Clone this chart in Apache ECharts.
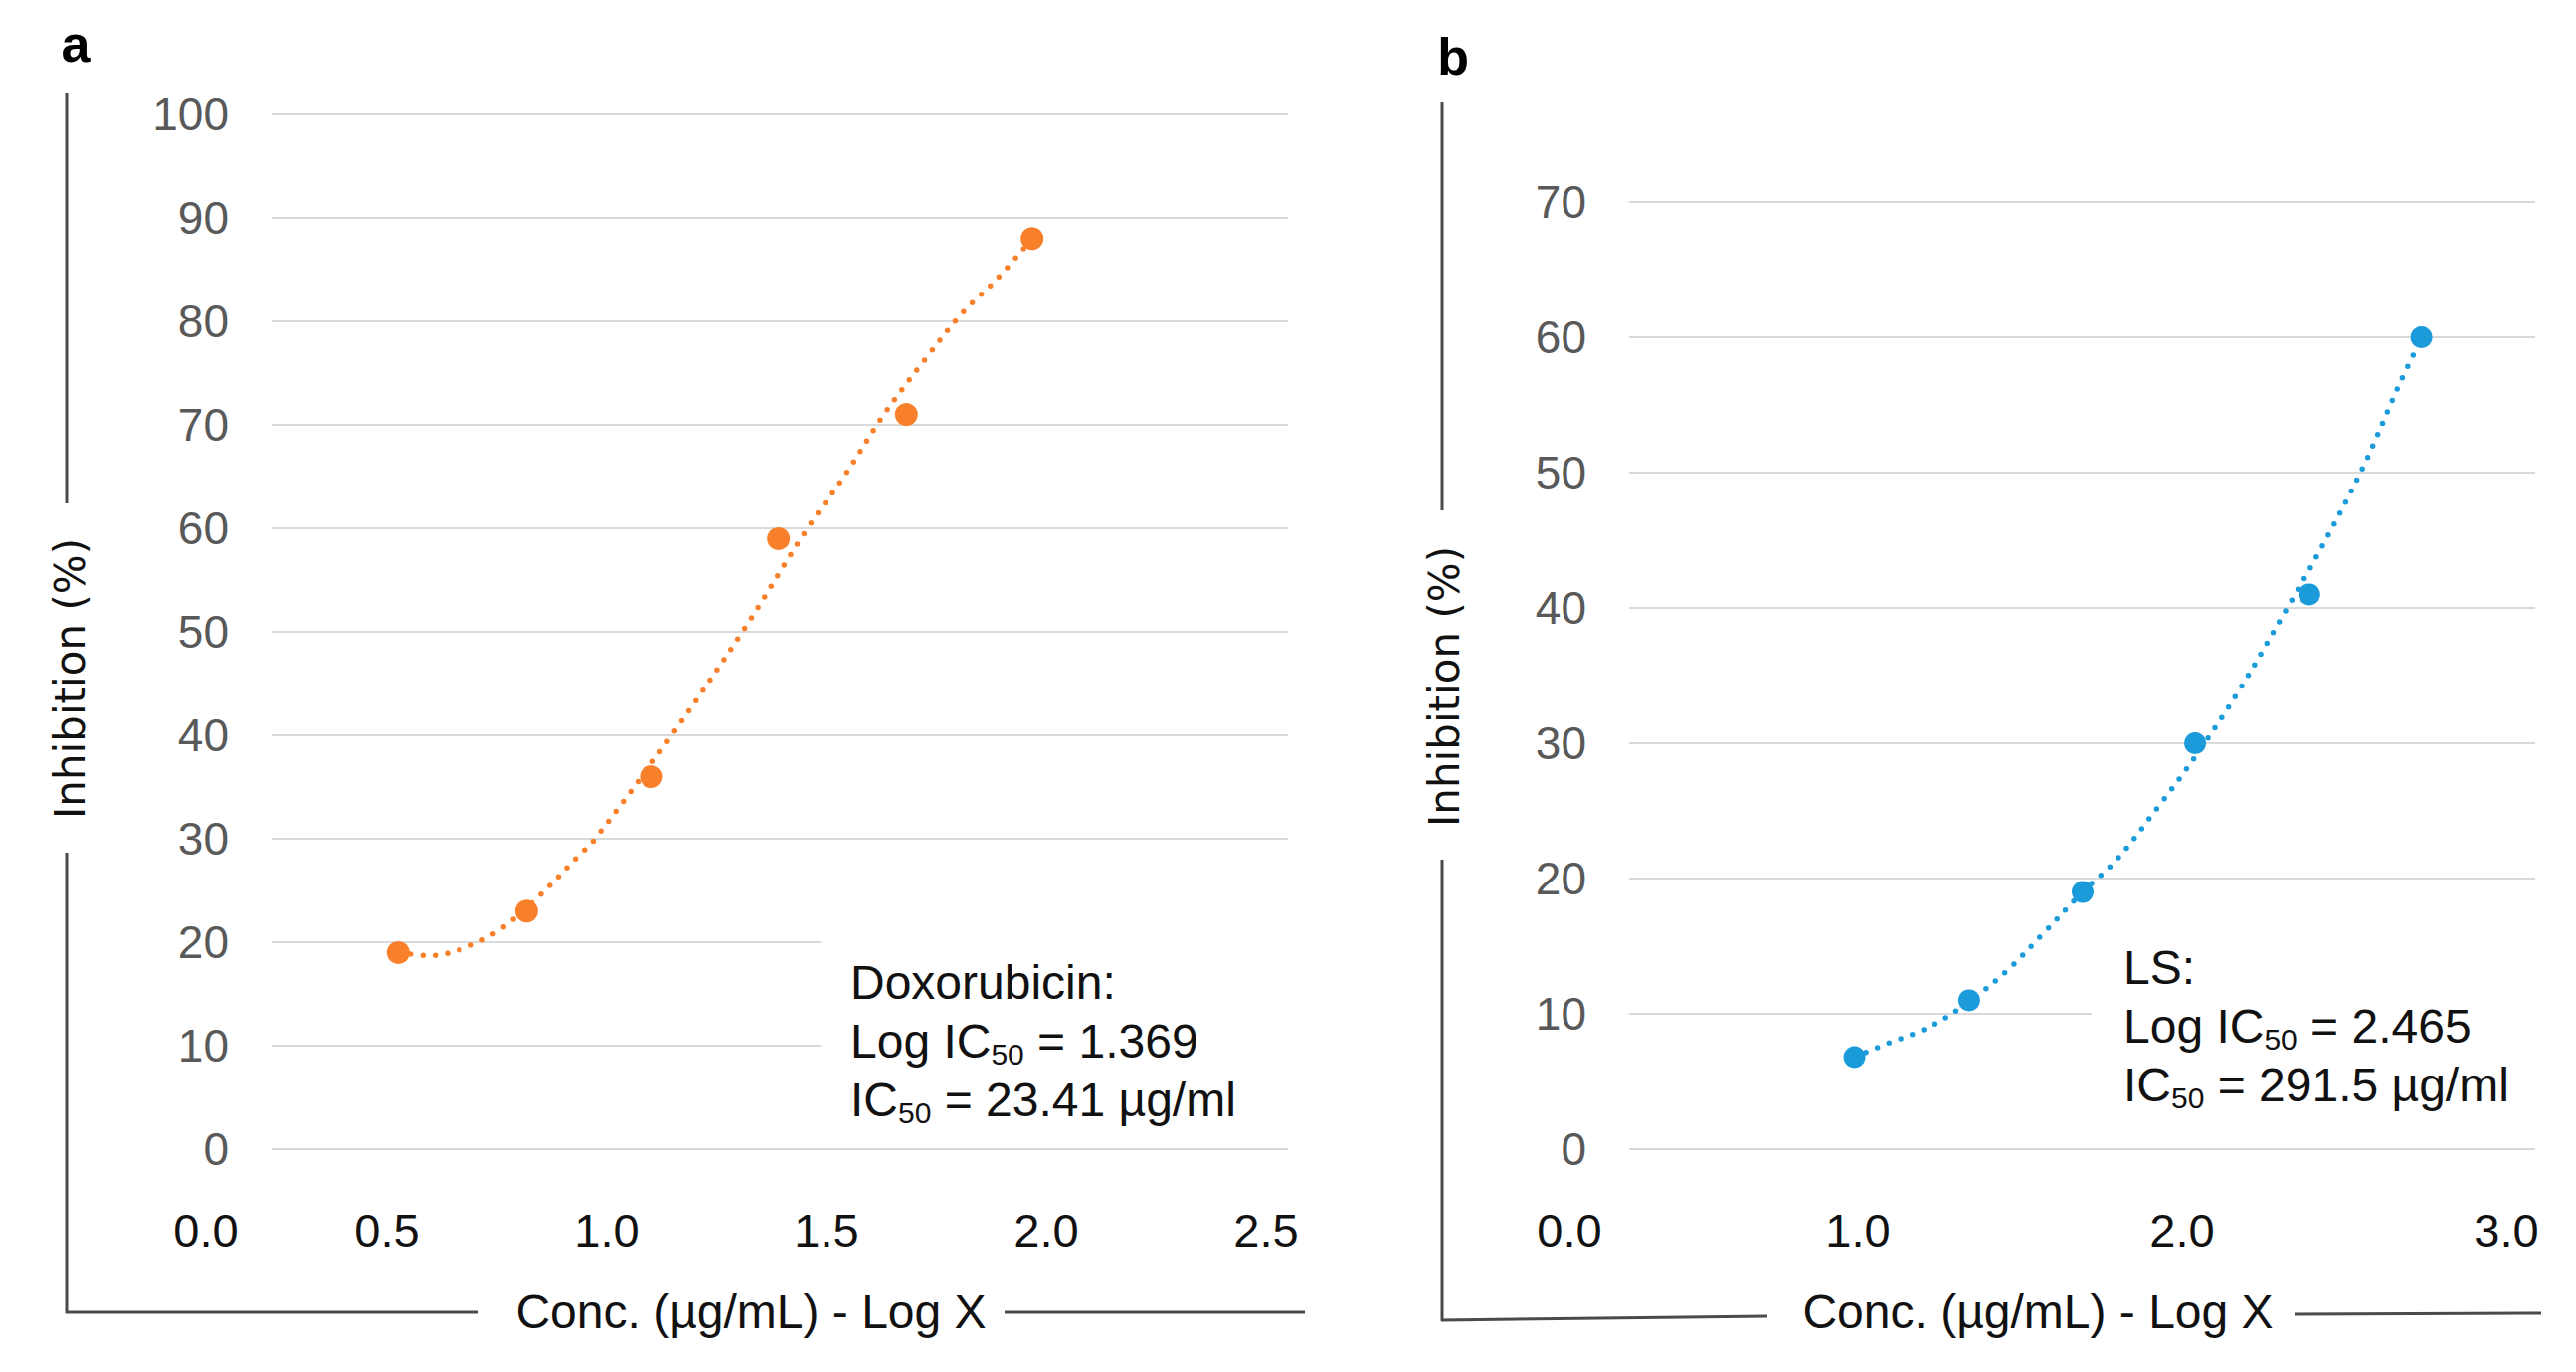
<!DOCTYPE html>
<html>
<head>
<meta charset="utf-8">
<script src="https://cdn.jsdelivr.net/npm/echarts@6/dist/echarts.min.js"></script>
<style>
html,body{margin:0;padding:0;background:#fff;}
#chart{width:2590px;height:1379px;}
</style>
</head>
<body>
<div id="chart"></div>
<script>
// ---------- Data ----------
// Panel a: Doxorubicin
const aPointsX = [0.526, 0.818, 1.102, 1.391, 1.682, 1.968];
const aPointsY = [19, 23, 36, 59, 71, 88];
const aCurveX = [0.526, 0.60, 0.68, 0.76, 0.84, 0.94, 0.974, 1.148, 1.309, 1.454, 1.545, 1.631, 1.726, 1.809, 1.886, 1.968];
const aCurveY = [19.0, 18.7, 19.5, 21.3, 24.2, 28.5, 30.0, 40.0, 50.0, 59.8, 65.3, 71.0, 76.4, 80.8, 84.0, 88.0];
const aXTickLabels = ['0.0', '0.5', '1.0', '1.5', '2.0', '2.5'];
const aYTickLabels = ['0', '10', '20', '30', '40', '50', '60', '70', '80', '90', '100'];

// Panel b: LS
const bPointsX = [0.989, 1.343, 1.693, 2.040, 2.392, 2.738];
const bPointsY = [6.8, 11, 19, 30, 41, 60];
const bCurveX = [0.989, 1.091, 1.218, 1.343, 1.460, 1.574, 1.693, 1.798, 1.929, 2.040, 2.173, 2.317, 2.426, 2.558, 2.675, 2.738];
const bCurveY = [6.8, 7.8, 9.0, 10.9, 13.2, 16.0, 19.0, 21.4, 25.4, 29.0, 33.8, 39.7, 44.3, 50.4, 56.8, 59.9];
const bXTickLabels = ['0.0', '1.0', '2.0', '3.0'];
const bYTickLabels = ['0', '10', '20', '30', '40', '50', '60', '70'];

// ---------- Styles ----------
const ORANGE = '#F8802A';
const BLUE = '#1C9BDA';
const GRID_COLOR = '#D9D9D9';
const FRAME = '#4a4a4a';
const SANS = '"Liberation Sans", Arial, sans-serif';
const TITLE_FONT = '"DejaVu Sans", sans-serif';

const zip = (xs, ys) => xs.map((x, i) => [x, ys[i]]);

function yAxisVisible(gridIndex, max, labels) {
  return {
    type: 'value', gridIndex, min: 0, max, interval: 10,
    axisLine: {show: false}, axisTick: {show: false},
    splitLine: {show: true, lineStyle: {color: GRID_COLOR, width: 2}},
    axisLabel: {
      color: '#595959', fontSize: 46, fontFamily: SANS, margin: 43,
      formatter: v => labels[Math.round(v / 10)]
    }
  };
}
function hiddenAxis(gridIndex, min, max) {
  return {type: 'value', gridIndex, min, max, show: false, splitLine: {show: false}};
}
function labelXAxis(gridIndex, max, interval, labels, shift) {
  return {
    type: 'value', gridIndex, min: 0, max, interval,
    axisLine: {show: false}, axisTick: {show: false}, splitLine: {show: false},
    axisLabel: {
      color: '#111', fontSize: 47, fontFamily: SANS, margin: 58, lineHeight: 47,
      showMinLabel: true, showMaxLabel: true,
      formatter: v => {
        const t = labels[Math.round(v / interval)];
        return v === 0 ? '{z|' + t + '}' : t;
      },
      rich: {z: {fontSize: 47, fontFamily: SANS, color: '#111', padding: [0, 0, 0, shift]}}
    }
  };
}

const subRich = {
  m: {fontSize: 48, fontFamily: SANS, color: '#111', lineHeight: 59},
  s: {fontSize: 30, fontFamily: SANS, color: '#111', lineHeight: 33, padding: [26, 0, 0, 0]}
};

const curveStyle = color => ({color, width: 5.5, type: [0, 12.5], cap: 'round'});

const option = {
  animation: false,
  backgroundColor: '#fff',
  grid: [
    {left: 273, top: 115, width: 1022, height: 1040},   // a plot
    {left: 168, top: 115, width: 1105, height: 1040},   // a x labels
    {left: 1638, top: 203, width: 911, height: 952},    // b plot
    {left: 1542, top: 203, width: 978, height: 952}     // b x labels
  ],
  xAxis: [
    hiddenAxis(0, 0.238, 2.55),
    labelXAxis(1, 2.5, 0.5, aXTickLabels, 78),
    hiddenAxis(2, 0.294, 3.089),
    labelXAxis(3, 3, 1, bXTickLabels, 72)
  ],
  yAxis: [
    yAxisVisible(0, 100, aYTickLabels),
    hiddenAxis(1, 0, 1),
    yAxisVisible(2, 70, bYTickLabels),
    hiddenAxis(3, 0, 1)
  ],
  series: [
    {
      type: 'line', xAxisIndex: 0, yAxisIndex: 0, data: zip(aCurveX, aCurveY),
      showSymbol: false, smooth: 0.35, z: 2, lineStyle: curveStyle(ORANGE)
    },
    {
      type: 'scatter', xAxisIndex: 0, yAxisIndex: 0, data: zip(aPointsX, aPointsY),
      symbol: 'circle', symbolSize: 23, itemStyle: {color: ORANGE, opacity: 1}, z: 3
    },
    {
      type: 'line', xAxisIndex: 2, yAxisIndex: 2, data: zip(bCurveX, bCurveY),
      showSymbol: false, smooth: 0.35, z: 2, lineStyle: curveStyle(BLUE)
    },
    {
      type: 'scatter', xAxisIndex: 2, yAxisIndex: 2, data: zip(bPointsX, bPointsY),
      symbol: 'circle', symbolSize: 22, itemStyle: {color: BLUE, opacity: 1}, z: 3
    }
  ],
  graphic: [
    // white boxes behind the annotation texts
    {type: 'rect', z: 1, shape: {x: 825, y: 885, width: 480, height: 250}, style: {fill: '#fff'}},
    {type: 'rect', z: 1, shape: {x: 2103, y: 930, width: 452, height: 205}, style: {fill: '#fff'}},
    // annotation texts
    {type: 'text', z: 5, x: 855, y: 958, style: {
      text: '{m|Doxorubicin:}\n{m|Log IC}{s|50}{m| = 1.369}\n{m|IC}{s|50}{m| = 23.41 µg/ml}',
      rich: subRich, fill: '#111', align: 'left', verticalAlign: 'top'}},
    {type: 'text', z: 5, x: 2135, y: 943, style: {
      text: '{m|LS:}\n{m|Log IC}{s|50}{m| = 2.465}\n{m|IC}{s|50}{m| = 291.5 µg/ml}',
      rich: subRich, fill: '#111', align: 'left', verticalAlign: 'top'}},
    // panel letters
    {type: 'text', z: 5, x: 76, y: 44, style: {text: 'a', fontSize: 52, fontWeight: 'bold', fontFamily: SANS, fill: '#000', align: 'center', verticalAlign: 'middle'}},
    {type: 'text', z: 5, x: 1461, y: 57, style: {text: 'b', fontSize: 52, fontWeight: 'bold', fontFamily: SANS, fill: '#000', align: 'center', verticalAlign: 'middle'}},
    // frame lines panel a
    {type: 'line', z: 5, shape: {x1: 67, y1: 93, x2: 67, y2: 506}, style: {stroke: FRAME, lineWidth: 3}},
    {type: 'line', z: 5, shape: {x1: 67, y1: 857, x2: 67, y2: 1320}, style: {stroke: FRAME, lineWidth: 3}},
    {type: 'line', z: 5, shape: {x1: 66, y1: 1319, x2: 481, y2: 1319}, style: {stroke: FRAME, lineWidth: 3}},
    {type: 'line', z: 5, shape: {x1: 1010, y1: 1319, x2: 1312, y2: 1319}, style: {stroke: FRAME, lineWidth: 3}},
    // frame lines panel b
    {type: 'line', z: 5, shape: {x1: 1450, y1: 103, x2: 1450, y2: 513}, style: {stroke: FRAME, lineWidth: 3}},
    {type: 'line', z: 5, shape: {x1: 1450, y1: 864, x2: 1450, y2: 1328}, style: {stroke: FRAME, lineWidth: 3}},
    {type: 'line', z: 5, shape: {x1: 1449, y1: 1327, x2: 1777, y2: 1323}, style: {stroke: FRAME, lineWidth: 3}},
    {type: 'line', z: 5, shape: {x1: 2307, y1: 1321, x2: 2555, y2: 1320}, style: {stroke: FRAME, lineWidth: 3}},
    // axis titles
    {type: 'text', z: 5, x: 70, y: 682, rotation: Math.PI / 2, style: {text: 'Inhibition (%)', fontSize: 42, fontFamily: TITLE_FONT, fill: '#111', align: 'center', verticalAlign: 'middle'}},
    {type: 'text', z: 5, x: 1452, y: 690, rotation: Math.PI / 2, style: {text: 'Inhibition (%)', fontSize: 42, fontFamily: TITLE_FONT, fill: '#111', align: 'center', verticalAlign: 'middle'}},
    {type: 'text', z: 5, x: 755, y: 1318, style: {text: 'Conc. (µg/mL) - Log X', fontSize: 48, fontFamily: SANS, fill: '#111', align: 'center', verticalAlign: 'middle'}},
    {type: 'text', z: 5, x: 2049, y: 1318, style: {text: 'Conc. (µg/mL) - Log X', fontSize: 48, fontFamily: SANS, fill: '#111', align: 'center', verticalAlign: 'middle'}}
  ]
};

const chart = echarts.init(document.getElementById('chart'), null, {renderer: 'svg'});
chart.setOption(option);
</script>
</body>
</html>
